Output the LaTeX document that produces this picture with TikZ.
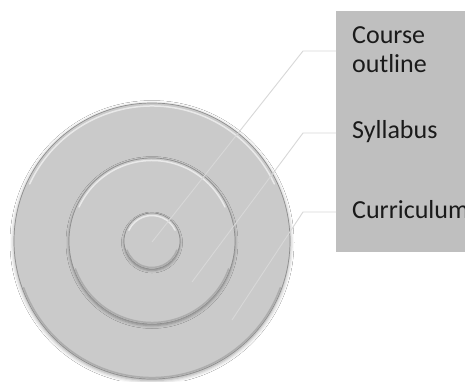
\documentclass[tikz,border=0pt]{standalone}
\usepackage{fontspec}
\setmainfont{Carlito}
\usetikzlibrary{shadows.blur}
\definecolor{ringfill}{HTML}{CACACA}
\definecolor{panelfill}{HTML}{BFBFBF}
\definecolor{leadercol}{HTML}{D8D8D8}
\definecolor{rimdark}{HTML}{8E8E8E}
\definecolor{textcol}{HTML}{1A1A1A}
\tikzset{
  ring/.style={circle, draw=rimdark, line width=0.7pt, fill=ringfill, inner sep=0pt, minimum size=#1},
  panelbox/.style={rectangle, fill=panelfill, draw=none, inner sep=0pt, minimum width=140pt, minimum height=241pt, anchor=north west},
  leaderline/.style={draw=leadercol, line width=0.9pt},
  labeltext/.style={anchor=base west, align=left, inner sep=0pt, text=textcol, font=\fontsize{26}{29}\selectfont},
  highlight/.style={draw=white, opacity=0.6, line width=1.5pt, line cap=round},
  shade/.style={draw=black, opacity=0.14, line width=1.5pt, line cap=round}
}
\begin{document}
\begin{tikzpicture}[x=1pt,y=-1pt]
\useasboundingbox (0,0) rectangle (465,381);
\clip (0,0) rectangle (465,381);
\fill[white] (0,0) rectangle (465,381);
% label panel
\node[panelbox] (panel) at (336,11) {};
% rings
\node[ring=276pt, blur shadow={shadow xshift=0pt, shadow yshift=-1.5pt, shadow blur radius=4pt, shadow opacity=40}] (outer) at (152,241) {};
\draw[highlight] (152,241) ++(-155:135) arc[start angle=-155, end angle=-25, radius=135];
\draw[shade] (152,241) ++(20:136.5) arc[start angle=20, end angle=160, radius=136.5];
\node[ring=166pt, blur shadow={shadow xshift=0pt, shadow yshift=-1.5pt, shadow blur radius=3pt, shadow opacity=35}] (middle) at (152,241) {};
\draw[highlight] (152,241) ++(-155:80.5) arc[start angle=-155, end angle=-25, radius=80.5];
\draw[shade] (152,241) ++(20:81.5) arc[start angle=20, end angle=160, radius=81.5];
\node[ring=56pt, blur shadow={shadow xshift=0pt, shadow yshift=-1.5pt, shadow blur radius=2.5pt, shadow opacity=35}] (inner) at (152,241) {};
\draw[highlight] (152,241) ++(-155:25.5) arc[start angle=-155, end angle=-25, radius=25.5];
\draw[shade] (152,241) ++(20:26.5) arc[start angle=20, end angle=160, radius=26.5];
% leader lines
\coordinate (bend1) at (303,51);
\coordinate (tip1) at (152,242);
\coordinate (bend2) at (303,133);
\coordinate (tip2) at (192,282);
\coordinate (bend3) at (303,212);
\coordinate (tip3) at (232,320);
\draw[leaderline] (tip1) -- (bend1) -- (panel.west |- bend1);
\draw[leaderline] (tip2) -- (bend2) -- (panel.west |- bend2);
\draw[leaderline] (tip3) -- (bend3) -- (panel.west |- bend3);
% labels
\node[labeltext] (course) at (352,72) {Course\\outline};
\node[labeltext] (syllabus) at (352,138) {Syllabus};
\node[labeltext] (curriculum) at (352,218) {Curriculum};
\end{tikzpicture}
\end{document}
